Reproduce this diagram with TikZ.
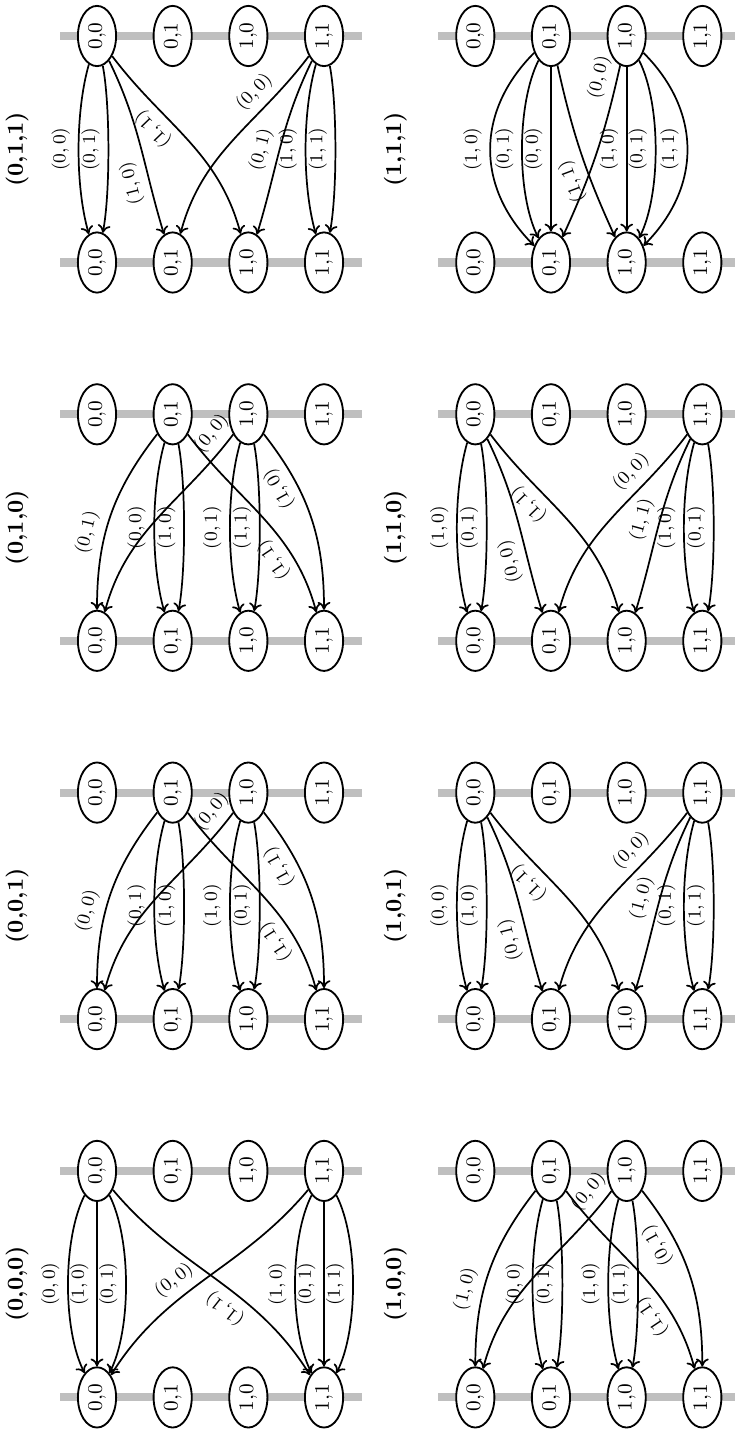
\documentclass[tikz,border=0pt]{standalone}
\usepackage{graphicx}
\usetikzlibrary{shapes.geometric,arrows.meta}
\newcommand\rt[1]{\rotatebox{90}{#1}}
\tikzset{
  st/.style={draw, ellipse, fill=white, line width=0.8pt, minimum width=16.6pt, minimum height=26.2pt, inner sep=0pt, font=\small},
  bar/.style={line width=3.5pt, draw=black!25},
  arr/.style={{To[length=3.4pt,width=5.6pt]}-, line width=0.75pt},
  lab/.style={pos=0.5, sloped, allow upside down, above, font=\footnotesize},
  ttl/.style={rotate=90, font=\bfseries},
  epl/.style={out=106,in=254,looseness=0.75},
  epr/.style={out=79,in=281,looseness=0.6},
  etl/.style={out=117,in=243,looseness=0.7},
  etr/.style={out=63,in=297,looseness=0.7},
  eol/.style={out=135,in=225,looseness=1.1},
  eor/.style={out=45,in=315,looseness=1.1},
  edbl/.style={out=90,in=232},
  edbr/.style={out=90,in=308},
  edmr/.style={out=107,in=296},
  edml/.style={out=73,in=244},
  ec2r/.style={out=105,in=307},
  ec2l/.style={out=75,in=233},
  ec3r/.style={out=122,in=310},
  ec3l/.style={out=58,in=230},
  ec1r/.style={bend left=6},
  ec1l/.style={bend right=6},
}
\newcommand\panel[4]{%
  \draw[bar] ({60+#2},-#3) -- ({362+#2},-#3);
  \draw[bar] ({60+#2},{-#3-226.5}) -- ({362+#2},{-#3-226.5});
  \foreach \nm/\tx/\ix in {00/{0,0}/0,01/{0,1}/1,10/{1,0}/2,11/{1,1}/3}{
    \node[st] (#1s\nm) at ({97+75.67*\ix+#2},-#3) {\rt{\tx}};
    \node[st] (#1t\nm) at ({97+75.67*\ix+#2},{-#3-226.5}) {\rt{\tx}};
  }
  \node[ttl] (#1ttl) at ({17+#2},{-#3-113.25}) {#4};
}
\begin{document}
\begin{tikzpicture}[x=0.4348pt,y=0.4348pt]
\useasboundingbox (0,0) rectangle (735,-1430);
\panel{a}{0}{1170.9}{(0,0,0)}
\panel{b}{0}{792.6}{(0,0,1)}
\panel{c}{0}{414.3}{(0,1,0)}
\panel{d}{0}{36}{(0,1,1)}
\panel{e}{378.3}{1170.9}{(1,0,0)}
\panel{f}{378.3}{792.6}{(1,0,1)}
\panel{g}{378.3}{414.3}{(1,1,0)}
\panel{h}{378.3}{36}{(1,1,1)}

% (0,0,0)
\draw[arr] (at00) to[etl] node[lab]{$(0,0)$} (as00);
\draw[arr] (at00) -- node[lab]{$(1,0)$} (as00);
\draw[arr] (at00) to[etr] node[lab]{$(0,1)$} (as00);
\draw[arr] (at11) to[ec3r] node[lab,pos=0.4]{$(1,1)$} (as00);
\draw[arr] (at00) to[ec3l] node[lab,pos=0.4]{$(0,0)$} (as11);
\draw[arr] (at11) to[etl] node[lab]{$(1,0)$} (as11);
\draw[arr] (at11) -- node[lab]{$(0,1)$} (as11);
\draw[arr] (at11) to[etr] node[lab]{$(1,1)$} (as11);

% (1,0,0)
\draw[arr] (et00) to[edbl] node[lab,pos=0.38]{$(1,0)$} (es01);
\draw[arr] (et01) to[epl] node[lab]{$(0,0)$} (es01);
\draw[arr] (et01) to[epr] node[lab]{$(0,1)$} (es01);
\draw[arr] (et11) to[ec2r] node[lab,pos=0.3]{$(1,1)$} (es01);
\draw[arr] (et00) to[ec2l] node[lab,pos=0.94]{$(0,0)$} (es10);
\draw[arr] (et10) to[epl] node[lab]{$(1,0)$} (es10);
\draw[arr] (et10) to[epr] node[lab]{$(1,1)$} (es10);
\draw[arr] (et11) to[edbr] node[lab,pos=0.72]{$(0,1)$} (es10);

% (0,0,1)
\draw[arr] (bt00) to[edbl] node[lab,pos=0.38]{$(0,0)$} (bs01);
\draw[arr] (bt01) to[epl] node[lab]{$(0,1)$} (bs01);
\draw[arr] (bt01) to[epr] node[lab]{$(1,0)$} (bs01);
\draw[arr] (bt11) to[ec2r] node[lab,pos=0.28]{$(1,1)$} (bs01);
\draw[arr] (bt00) to[ec2l] node[lab,pos=0.95]{$(0,0)$} (bs10);
\draw[arr] (bt10) to[epl] node[lab]{$(1,0)$} (bs10);
\draw[arr] (bt10) to[epr] node[lab]{$(0,1)$} (bs10);
\draw[arr] (bt11) to[edbr] node[lab,pos=0.72]{$(1,1)$} (bs10);

% (0,1,0)
\draw[arr] (ct00) to[edbl] node[lab,pos=0.38]{$(0,1)$} (cs01);
\draw[arr] (ct01) to[epl] node[lab]{$(0,0)$} (cs01);
\draw[arr] (ct01) to[epr] node[lab]{$(1,0)$} (cs01);
\draw[arr] (ct11) to[ec2r] node[lab,pos=0.3]{$(1,1)$} (cs01);
\draw[arr] (ct00) to[ec2l] node[lab,pos=0.95]{$(0,0)$} (cs10);
\draw[arr] (ct10) to[epl] node[lab]{$(0,1)$} (cs10);
\draw[arr] (ct10) to[epr] node[lab]{$(1,1)$} (cs10);
\draw[arr] (ct11) to[edbr] node[lab,pos=0.72]{$(1,0)$} (cs10);

% (0,1,1)
\draw[arr] (dt00) to[epl] node[lab]{$(0,0)$} (ds00);
\draw[arr] (dt00) to[epr] node[lab]{$(0,1)$} (ds00);
\draw[arr] (dt01) to[edmr] node[lab,pos=0.3]{$(1,0)$} (ds00);
\draw[arr] (dt10) to[ec2r] node[lab,pos=0.65]{$(1,1)$} (ds00);
\draw[arr] (dt01) to[ec2l] node[lab,pos=0.73]{$(0,0)$} (ds11);
\draw[arr] (dt10) to[edml] node[lab,pos=0.45]{$(0,1)$} (ds11);
\draw[arr] (dt11) to[epl] node[lab]{$(1,0)$} (ds11);
\draw[arr] (dt11) to[epr] node[lab]{$(1,1)$} (ds11);

% (1,0,1)
\draw[arr] (ft00) to[epl] node[lab]{$(0,0)$} (fs00);
\draw[arr] (ft00) to[epr] node[lab]{$(1,0)$} (fs00);
\draw[arr] (ft01) to[edmr] node[lab,pos=0.3]{$(0,1)$} (fs00);
\draw[arr] (ft10) to[ec2r] node[lab,pos=0.67]{$(1,1)$} (fs00);
\draw[arr] (ft01) to[ec2l] node[lab,pos=0.72]{$(0,0)$} (fs11);
\draw[arr] (ft10) to[edml] node[lab,pos=0.5]{$(1,0)$} (fs11);
\draw[arr] (ft11) to[epl] node[lab]{$(0,1)$} (fs11);
\draw[arr] (ft11) to[epr] node[lab]{$(1,1)$} (fs11);

% (1,1,0)
\draw[arr] (gt00) to[epl] node[lab]{$(1,0)$} (gs00);
\draw[arr] (gt00) to[epr] node[lab]{$(0,1)$} (gs00);
\draw[arr] (gt01) to[edmr] node[lab,pos=0.3]{$(0,0)$} (gs00);
\draw[arr] (gt10) to[ec2r] node[lab,pos=0.67]{$(1,1)$} (gs00);
\draw[arr] (gt01) to[ec2l] node[lab,pos=0.72]{$(0,0)$} (gs11);
\draw[arr] (gt10) to[edml] node[lab,pos=0.5]{$(1,1)$} (gs11);
\draw[arr] (gt11) to[epl] node[lab]{$(1,0)$} (gs11);
\draw[arr] (gt11) to[epr] node[lab]{$(0,1)$} (gs11);

% (1,1,1)
\draw[arr] (ht01) to[eol] node[lab]{$(1,0)$} (hs01);
\draw[arr] (ht01) to[etl] node[lab]{$(0,1)$} (hs01);
\draw[arr] (ht01) -- node[lab]{$(0,0)$} (hs01);
\draw[arr] (ht10) to[ec1r] node[lab,pos=0.36]{$(1,1)$} (hs01);
\draw[arr] (ht01) to[ec1l] node[lab,pos=0.92]{$(0,0)$} (hs10);
\draw[arr] (ht10) -- node[lab]{$(1,0)$} (hs10);
\draw[arr] (ht10) to[etr] node[lab]{$(0,1)$} (hs10);
\draw[arr] (ht10) to[eor] node[lab]{$(1,1)$} (hs10);
\end{tikzpicture}
\end{document}
